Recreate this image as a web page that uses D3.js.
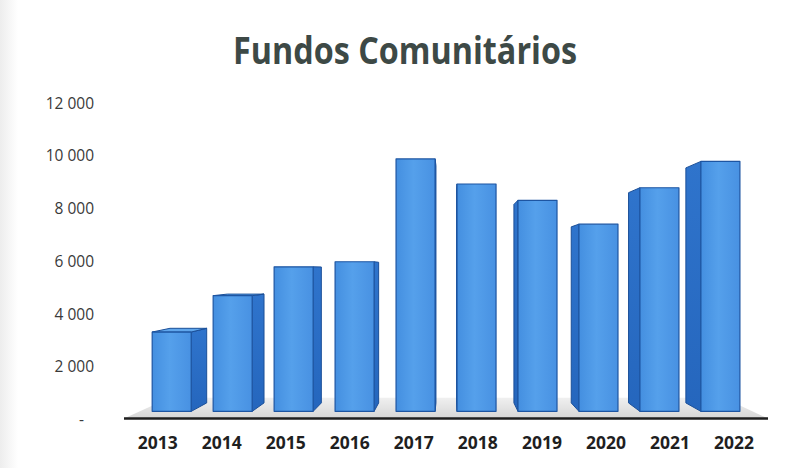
<!DOCTYPE html>
<html>
<head>
<meta charset="utf-8">
<script src="https://cdn.jsdelivr.net/npm/d3@7"></script>
<style>
  html, body { margin: 0; padding: 0; background: #fff; }
  svg { display: block; }
</style>
</head>
<body>
<svg id="chart" width="790" height="468"></svg>
<script>
// Fundos Comunitários, 2013–2022
const years = ["2013", "2014", "2015", "2016", "2017", "2018", "2019", "2020", "2021", "2022"];
const values = [3200, 4650, 5800, 6000, 10100, 9100, 8450, 7500, 8950, 10000];
const yTicks = [0, 2000, 4000, 6000, 8000, 10000, 12000];
const title = "Fundos Comunitários";

const W = 790, H = 468;
const svg = d3.select("#chart");

// Front plane scales (the plane of the floor's front edge)
const x = d3.scaleBand().domain(years).range([125, 766.7]).paddingInner(0.36).paddingOuter(0.19);
const y = d3.scaleLinear().domain([0, 12000]).range([419.5, 103.2]);

// One-point perspective: depth d in [0,1] pulls a point toward the vanishing point
const VP = [450, 270];
const dFront = 0.048, dBack = 0.105, dFloor = 0.14;
const proj = (X, Y, d) => [X + d * (VP[0] - X), Y + d * (VP[1] - Y)];
const pts = arr => arr.map(p => p.join(",")).join(" ");

const defs = svg.append("defs");
const gFront = defs.append("linearGradient").attr("id", "front").attr("x1", 0).attr("x2", 1).attr("y1", 0).attr("y2", 0);
gFront.append("stop").attr("offset", "0%").attr("stop-color", "#448fe0");
gFront.append("stop").attr("offset", "45%").attr("stop-color", "#55a0eb");
gFront.append("stop").attr("offset", "100%").attr("stop-color", "#4891e2");
const gSide = defs.append("linearGradient").attr("id", "side").attr("x1", 0).attr("x2", 0).attr("y1", 0).attr("y2", 1);
gSide.append("stop").attr("offset", "0%").attr("stop-color", "#2f74cc");
gSide.append("stop").attr("offset", "100%").attr("stop-color", "#2566bd");
const gFloor = defs.append("linearGradient").attr("id", "floor").attr("x1", 0).attr("x2", 0).attr("y1", 0).attr("y2", 1);
gFloor.append("stop").attr("offset", "0%").attr("stop-color", "#f0f0f0");
gFloor.append("stop").attr("offset", "100%").attr("stop-color", "#d6d6d6");
const gEdge = defs.append("linearGradient").attr("id", "edge").attr("x1", 0).attr("x2", 1).attr("y1", 0).attr("y2", 0);
gEdge.append("stop").attr("offset", "0%").attr("stop-color", "#ededed");
gEdge.append("stop").attr("offset", "100%").attr("stop-color", "#ffffff");

// faint paper edge on the left
svg.append("rect").attr("x", 0).attr("y", 0).attr("width", 18).attr("height", H).attr("fill", "url(#edge)");

// Title
svg.append("text")
  .attr("x", 405).attr("y", 64)
  .attr("text-anchor", "middle")
  .attr("font-family", "'Open Sans', sans-serif")
  .attr("font-weight", 700)
  .attr("font-size", 37)
  .attr("textLength", 344)
  .attr("lengthAdjust", "spacingAndGlyphs")
  .attr("fill", "#3d4946")
  .text(title);

// Floor
const Y0 = y(0) - 1;
const fl = 124, fr = 768;
svg.append("polygon")
  .attr("points", pts([proj(fl, Y0, dFloor), proj(fr, Y0, dFloor), [fr, Y0], [fl, Y0]]))
  .attr("fill", "url(#floor)");
svg.append("line")
  .attr("x1", fl).attr("x2", fr).attr("y1", Y0).attr("y2", Y0)
  .attr("stroke", "#1e1e1e").attr("stroke-width", 2.4);

// Bars
const bw = x.bandwidth();
const bars = svg.append("g").selectAll("g").data(years.map((yr, i) => ({ yr, v: values[i] }))).join("g");
bars.each(function (d) {
  const g = d3.select(this);
  const X0 = x(d.yr), X1 = X0 + bw, Yt = y(d.v), Yb = y(0) - 1;
  const cx = X0 + bw / 2;
  const Xs = cx < VP[0] ? X1 : X0;
  // side face
  g.append("polygon")
    .attr("points", pts([proj(Xs, Yt, dFront), proj(Xs, Yt, dBack), proj(Xs, Yb, dBack), proj(Xs, Yb, dFront)]))
    .attr("fill", "url(#side)").attr("stroke", "#1b4f98").attr("stroke-width", 1).attr("stroke-linejoin", "round");
  // top face, seen only when the top lies below eye level
  if (Yt > VP[1]) {
    g.append("polygon")
      .attr("points", pts([proj(X0, Yt, dFront), proj(X1, Yt, dFront), proj(X1, Yt, dBack), proj(X0, Yt, dBack)]))
      .attr("fill", "#5fa6ec").attr("stroke", "#1b4f98").attr("stroke-width", 1).attr("stroke-linejoin", "round");
  }
  // front face
  g.append("polygon")
    .attr("points", pts([proj(X0, Yt, dFront), proj(X1, Yt, dFront), proj(X1, Yb, dFront), proj(X0, Yb, dFront)]))
    .attr("fill", "url(#front)").attr("stroke", "#1d55a2").attr("stroke-width", 1.2).attr("stroke-linejoin", "round");
});

// Value axis
const fmt = d3.formatLocale({ decimal: ",", thousands: "\u00a0", grouping: [3], currency: ["", "€"] }).format(",d");
const yAxis = svg.append("g")
  .attr("transform", "translate(94,0)")
  .call(d3.axisLeft(y).tickValues(yTicks).tickSize(0).tickPadding(0).tickFormat(v => v === 0 ? "-" : fmt(v)));
yAxis.select(".domain").remove();
yAxis.selectAll("text")
  .attr("font-family", "'Open Sans', sans-serif")
  .attr("font-size", 15.5)
  .attr("fill", "#3a3a3a");
yAxis.selectAll(".tick").filter(v => v === 0).select("text").attr("x", -10);

// Category axis
const xAxis = svg.append("g")
  .attr("transform", "translate(0,430)")
  .call(d3.axisBottom(x).tickSize(0).tickPadding(7));
xAxis.select(".domain").remove();
xAxis.selectAll("text")
  .attr("font-family", "'Open Sans', sans-serif")
  .attr("font-weight", 700)
  .attr("font-size", 17.5)
  .attr("fill", "#1f1f1f");
</script>
</body>
</html>
